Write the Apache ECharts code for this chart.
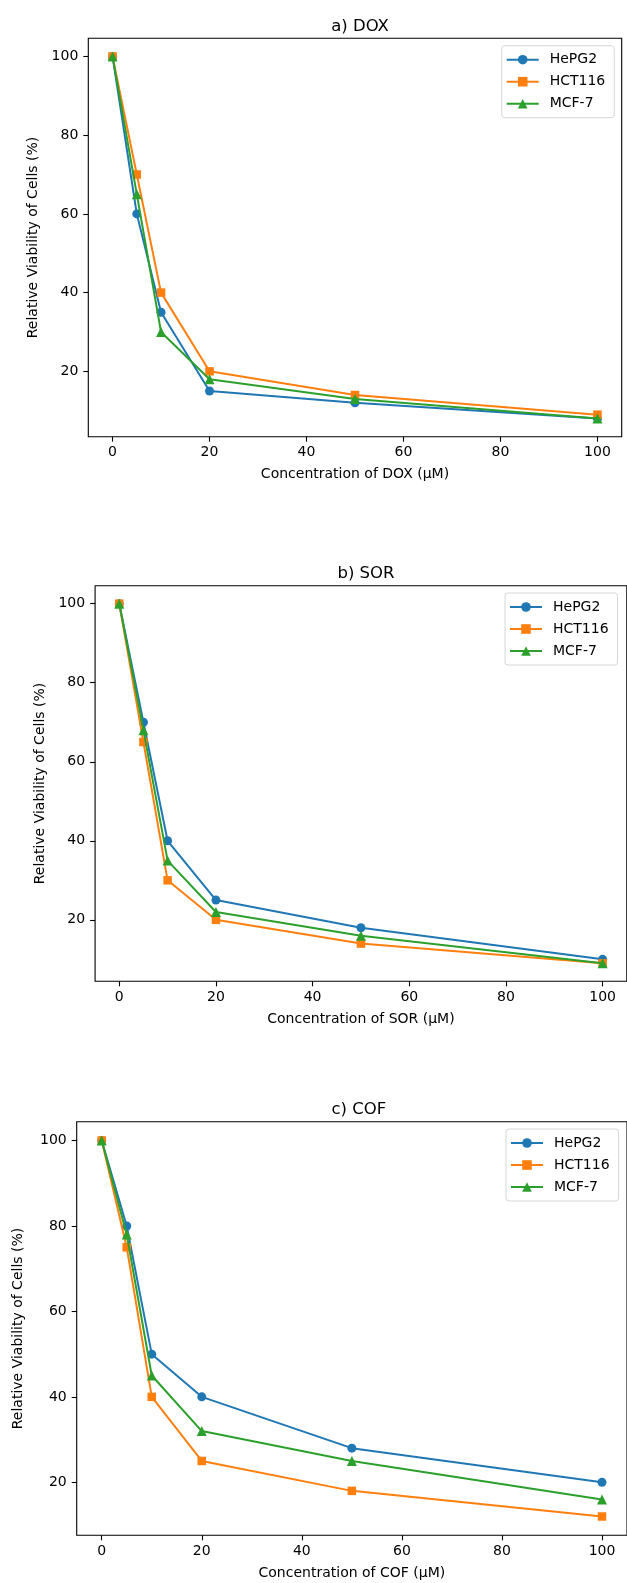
<!DOCTYPE html>
<html>
<head>
<meta charset="utf-8">
<script src="https://cdn.jsdelivr.net/npm/echarts@6/dist/echarts.min.js"></script>
<style>
html,body{margin:0;padding:0;background:#fff;}
#chart{width:627px;height:1583px;}
</style>
</head>
<body>
<div id="chart"></div>
<script>
// Concentrations (µM)
const concentrations = [0, 5, 10, 20, 50, 100];
const cellLines = ['HePG2', 'HCT116', 'MCF-7'];
const xTicks = [0, 20, 40, 60, 80, 100];
const yTicks = [20, 40, 60, 80, 100];

// a) DOX
const doxHePG2  = [100, 60, 35, 15, 12, 8];
const doxHCT116 = [100, 70, 40, 20, 14, 9];
const doxMCF7   = [100, 65, 30, 18, 13, 8];
// b) SOR
const sorHePG2  = [100, 70, 40, 25, 18, 10];
const sorHCT116 = [100, 65, 30, 20, 14, 9];
const sorMCF7   = [100, 68, 35, 22, 16, 9];
// c) COF
const cofHePG2  = [100, 80, 50, 40, 28, 20];
const cofHCT116 = [100, 75, 40, 25, 18, 12];
const cofMCF7   = [100, 78, 45, 32, 25, 16];

const panelTitles = ['a) DOX', 'b) SOR', 'c) COF'];
const xNames = ['Concentration of DOX (μM)', 'Concentration of SOR (μM)', 'Concentration of COF (μM)'];
const yName = 'Relative Viability of Cells (%)';
const panelData = [
  [doxHePG2, doxHCT116, doxMCF7],
  [sorHePG2, sorHCT116, sorMCF7],
  [cofHePG2, cofHCT116, cofMCF7]
];

// layout (pixels)
const grids = [
  {left: 88.3, top: 38.3, width: 533.4, height: 398.4},
  {left: 95.1, top: 585.7, width: 531.7, height: 395.6},
  {left: 76.7, top: 1121.7, width: 554.3, height: 413.6}
];
const yRanges = [[3.4, 104.6], [4.45, 104.55], [7.6, 104.4]];
const yNameGaps = [47, 46, 51];
const legendPos = [{left: 501.7, top: 45.7}, {left: 505, top: 593}, {left: 506, top: 1129}];

const colors = ['#1f77b4', '#ff7f0e', '#2ca02c'];
const symbols = ['circle', 'rect', 'triangle'];
const symbolSizes = [9, 8.5, 10];
const FONT = 'DejaVu Sans';

const option = {
  backgroundColor: '#fff',
  animation: false,
  textStyle: {fontFamily: FONT},
  title: [], grid: [], xAxis: [], yAxis: [], legend: [], series: []
};

for (let p = 0; p < 3; p++) {
  const g = grids[p];
  option.title.push({
    text: panelTitles[p],
    left: g.left + g.width / 2, top: g.top - 25,
    textAlign: 'center',
    textStyle: {fontFamily: FONT, fontSize: 16.5, fontWeight: 'normal', color: '#000'}
  });
  option.grid.push({
    left: g.left, top: g.top, width: g.width, height: g.height,
    show: true, borderColor: '#000', borderWidth: 1.1, backgroundColor: 'transparent'
  });
  option.xAxis.push({
    type: 'value', gridIndex: p, min: -5, max: 105,
    name: xNames[p], nameLocation: 'middle', nameGap: 31,
    nameTextStyle: {fontFamily: FONT, fontSize: 14, color: '#000'},
    axisLine: {show: false, onZero: false},
    axisTick: {show: true, inside: false, length: 5, lineStyle: {color: '#000', width: 1.1}, customValues: xTicks},
    axisLabel: {fontFamily: FONT, fontSize: 14, color: '#000', margin: 9, customValues: xTicks},
    splitLine: {show: false}
  });
  option.yAxis.push({
    type: 'value', gridIndex: p, min: yRanges[p][0], max: yRanges[p][1],
    name: yName, nameLocation: 'middle', nameGap: yNameGaps[p], nameRotate: 90,
    nameTextStyle: {fontFamily: FONT, fontSize: 14, color: '#000'},
    axisLine: {show: false, onZero: false},
    axisTick: {show: true, inside: false, length: 5, lineStyle: {color: '#000', width: 1.1}, customValues: yTicks},
    axisLabel: {fontFamily: FONT, fontSize: 14, color: '#000', margin: 10, customValues: yTicks},
    splitLine: {show: false}
  });
  option.legend.push({
    left: legendPos[p].left, top: legendPos[p].top,
    orient: 'vertical',
    data: cellLines,
    itemWidth: 32, itemHeight: 12, itemGap: 6,
    padding: [6, 9, 6, 4],
    borderColor: '#d6d6d6', borderWidth: 1, borderRadius: 3,
    backgroundColor: 'rgba(255,255,255,0.8)',
    textStyle: {fontFamily: FONT, fontSize: 14, color: '#000', lineHeight: 16, padding: [0, 0, 0, 6]},
    selectedMode: false
  });
  for (let s = 0; s < 3; s++) {
    const vals = panelData[p][s];
    option.series.push({
      type: 'line', name: cellLines[s],
      xAxisIndex: p, yAxisIndex: p,
      data: concentrations.map((c, i) => [c, vals[i]]),
      symbol: symbols[s], symbolSize: symbolSizes[s], showAllSymbol: true,
      color: colors[s],
      lineStyle: {color: colors[s], width: 2},
      itemStyle: {color: colors[s], borderWidth: 0},
      z: 2 + s
    });
  }
}

const chart = echarts.init(document.getElementById('chart'), null, {renderer: 'canvas'});
chart.setOption(option);
</script>
</body>
</html>
